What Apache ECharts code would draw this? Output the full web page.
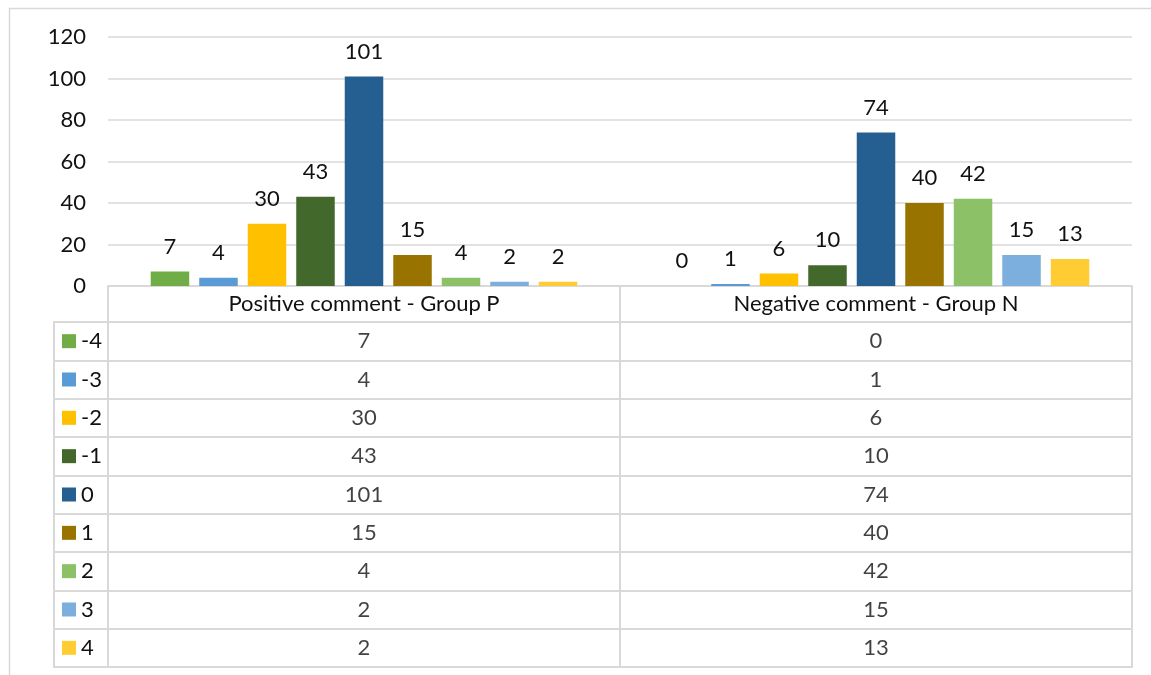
<!DOCTYPE html>
<html>
<head>
<meta charset="utf-8">
<script src="https://cdn.jsdelivr.net/npm/echarts@6/dist/echarts.min.js"></script>
<style>
  html, body { margin: 0; padding: 0; background: #fff; }
  #chart { width: 1151px; height: 675px; }
</style>
</head>
<body>
<div id="chart"></div>
<script>
// Score distribution by comment group
const groups = ['Positive comment - Group P', 'Negative comment - Group N'];
const scores = ['-4', '-3', '-2', '-1', '0', '1', '2', '3', '4'];
const groupP = [7, 4, 30, 43, 101, 15, 4, 2, 2];
const groupN = [0, 1, 6, 10, 74, 40, 42, 15, 13];
const yTicks = [0, 20, 40, 60, 80, 100, 120];

const palette = ['#70AD47', '#5B9BD5', '#FFC000', '#43682B', '#255E91',
                 '#997300', '#8CC168', '#7CAFDD', '#FFCD33'];

const FONT = 'Lato, "Liberation Sans", sans-serif';
const TEXT = '#111111';
const LINE = '#D9D9D9';
const FS = 22;

// one bar series per score, one bar per group
const barSeries = scores.map((s, i) => ({
  name: s,
  type: 'bar',
  xAxisIndex: 0,
  yAxisIndex: 0,
  data: [groupP[i], groupN[i]],
  barWidth: 38.5,
  barGap: '26%',
  itemStyle: { color: palette[i] },
  label: {
    show: true,
    position: 'top',
    distance: 14,
    color: TEXT,
    fontFamily: FONT,
    fontSize: FS
  }
}));

// data table cells: [column, row, value]
const cells = [];
scores.forEach((s, i) => {
  cells.push([0, i, groupP[i]]);
  cells.push([1, i, groupN[i]]);
});

// legend keys for the table's first column
const keyRich = { t: { color: TEXT, fontFamily: FONT, fontSize: FS, padding: [0, 0, 0, 5] } };
palette.forEach((c, i) => {
  keyRich['k' + i] = { backgroundColor: c, width: 14, height: 14 };
});

const chart = echarts.init(document.getElementById('chart'), null, { renderer: 'canvas' });

chart.setOption({
  animation: false,
  backgroundColor: '#fff',
  textStyle: { fontFamily: FONT },
  graphic: [{
    type: 'rect',
    shape: { x: 9.5, y: 8.5, width: 1200, height: 700 },
    style: { fill: 'none', stroke: LINE, lineWidth: 1.5 },
    silent: true
  }],
  grid: [
    { left: 108, right: 19, top: 37, bottom: 389 },
    { left: 108, right: 19, top: 322, bottom: 8, show: true, borderColor: LINE, borderWidth: 2 },
    { left: 54, width: 54, top: 322, bottom: 8, show: true, borderColor: LINE, borderWidth: 2 }
  ],
  xAxis: [
    {
      gridIndex: 0,
      type: 'category',
      data: groups,
      axisLine: { show: true, lineStyle: { color: LINE, width: 2 } },
      axisTick: { show: true, interval: 0, length: 36, lineStyle: { color: LINE, width: 2 } },
      axisLabel: { color: TEXT, fontFamily: FONT, fontSize: FS, margin: 7, interval: 0 }
    },
    {
      gridIndex: 1,
      type: 'category',
      data: groups,
      axisLine: { show: false },
      axisTick: { show: false },
      axisLabel: { show: false },
      splitLine: { show: true, interval: 0, lineStyle: { color: LINE, width: 2 } }
    },
    {
      gridIndex: 2,
      type: 'category',
      data: [''],
      axisLine: { show: false },
      axisTick: { show: false },
      axisLabel: { show: false }
    }
  ],
  yAxis: [
    {
      gridIndex: 0,
      type: 'value',
      min: yTicks[0],
      max: yTicks[yTicks.length - 1],
      interval: 20,
      axisLine: { show: false },
      axisTick: { show: false },
      axisLabel: { color: TEXT, fontFamily: FONT, fontSize: FS, margin: 22 },
      splitLine: { lineStyle: { color: LINE, width: 1.5 } }
    },
    {
      gridIndex: 1,
      type: 'category',
      inverse: true,
      data: scores,
      axisLine: { show: false },
      axisTick: { show: false },
      axisLabel: { show: false },
      splitLine: { show: true, interval: 0, lineStyle: { color: LINE, width: 2 } }
    },
    {
      gridIndex: 2,
      type: 'category',
      inverse: true,
      data: scores,
      axisLine: { show: false },
      axisTick: { show: false },
      axisLabel: {
        inside: true,
        margin: 8,
        interval: 0,
        formatter: (v, idx) => '{k' + idx + '|}{t|' + v + '}',
        rich: keyRich
      },
      splitLine: { show: true, interval: 0, lineStyle: { color: LINE, width: 2 } }
    }
  ],
  series: barSeries.concat([{
    type: 'scatter',
    xAxisIndex: 1,
    yAxisIndex: 1,
    data: cells,
    symbolSize: 1,
    itemStyle: { color: 'rgba(0,0,0,0)' },
    label: {
      show: true,
      position: 'inside',
      color: TEXT,
      fontFamily: FONT,
      fontSize: FS,
      formatter: p => String(p.data[2])
    }
  }])
});
</script>
</body>
</html>
